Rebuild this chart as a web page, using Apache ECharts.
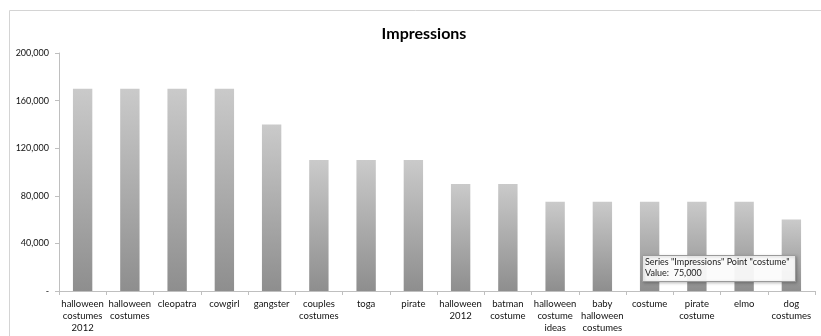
<!DOCTYPE html>
<html>
<head>
<meta charset="utf-8">
<script src="https://cdn.jsdelivr.net/npm/echarts@6/dist/echarts.min.js"></script>
<style>
  html, body { margin: 0; padding: 0; background: #ffffff; }
  #chart { width: 821px; height: 336px; }
</style>
</head>
<body>
<div id="chart"></div>
<script>
// Search terms and their impression counts
const categories = [
  'halloween\ncostumes\n2012', 'halloween\ncostumes', 'cleopatra', 'cowgirl',
  'gangster', 'couples\ncostumes', 'toga', 'pirate', 'halloween\n2012',
  'batman\ncostume', 'halloween\ncostume\nideas', 'baby\nhalloween\ncostumes',
  'costume', 'pirate\ncostume', 'elmo', 'dog\ncostumes'
];
const impressions = [
  170000, 170000, 170000, 170000, 140000, 110000, 110000, 110000,
  90000, 90000, 75000, 75000, 75000, 75000, 75000, 60000
];
const yTicks = { min: 0, max: 200000, interval: 40000 };

const fontFamily = 'Lato, "Open Sans", sans-serif';
const chart = echarts.init(document.getElementById('chart'), null, { renderer: 'canvas' });

const tipIndex = categories.indexOf('costume');
const fmt = v => v.toLocaleString('en-US');

chart.setOption({
  animation: false,
  title: {
    text: 'Impressions',
    left: 419,
    textAlign: 'center',
    top: 21,
    textStyle: { fontFamily, fontSize: 16, fontWeight: 'bold', color: '#000' }
  },
  grid: { left: 59, right: 6, top: 53, bottom: 45 },
  xAxis: {
    type: 'category',
    data: categories,
    axisLine: { lineStyle: { color: '#bfbfbf' } },
    axisTick: { show: true, length: 4, lineStyle: { color: '#bfbfbf' } },
    axisLabel: {
      interval: 0, fontFamily, fontSize: 9.5, color: '#111',
      lineHeight: 12, margin: 7
    }
  },
  yAxis: {
    type: 'value',
    min: yTicks.min, max: yTicks.max, interval: yTicks.interval,
    splitLine: { show: false },
    axisLine: { show: true, lineStyle: { color: '#bfbfbf' } },
    axisTick: { show: true, length: 4, lineStyle: { color: '#bfbfbf' } },
    axisLabel: {
      fontFamily, fontSize: 9, color: '#111', margin: 10,
      formatter: v => (v === 0 ? '-' : fmt(v))
    }
  },
  series: [{
    name: 'Impressions',
    type: 'bar',
    data: impressions,
    barWidth: '41%',
    itemStyle: {
      color: new echarts.graphic.LinearGradient(0, 0, 0, 1, [
        { offset: 0, color: '#cacaca' },
        { offset: 1, color: '#8e8e8e' }
      ])
    }
  }],
  graphic: [
    {
      // chart frame
      type: 'rect',
      shape: { x: 9.5, y: 10.5, width: 830, height: 340 },
      style: { fill: 'none', stroke: '#d4d4d4', lineWidth: 1 },
      silent: true
    },
    {
      // hover note for the "costume" bar
      type: 'rect',
      shape: { x: 642.5, y: 255.5, width: 153, height: 26 },
      style: {
        fill: 'rgba(255,255,255,0.92)', stroke: '#9a9a9a', lineWidth: 1,
        shadowBlur: 3, shadowColor: 'rgba(0,0,0,0.25)', shadowOffsetX: 1, shadowOffsetY: 1
      },
      z: 100
    },
    {
      type: 'text',
      x: 645, y: 257,
      style: {
        text: 'Series "Impressions" Point "' + categories[tipIndex] + '"\nValue:  ' + fmt(impressions[tipIndex]),
        fontFamily, fontSize: 9, lineHeight: 11, fill: '#222'
      },
      z: 101
    }
  ]
});
</script>
</body>
</html>
